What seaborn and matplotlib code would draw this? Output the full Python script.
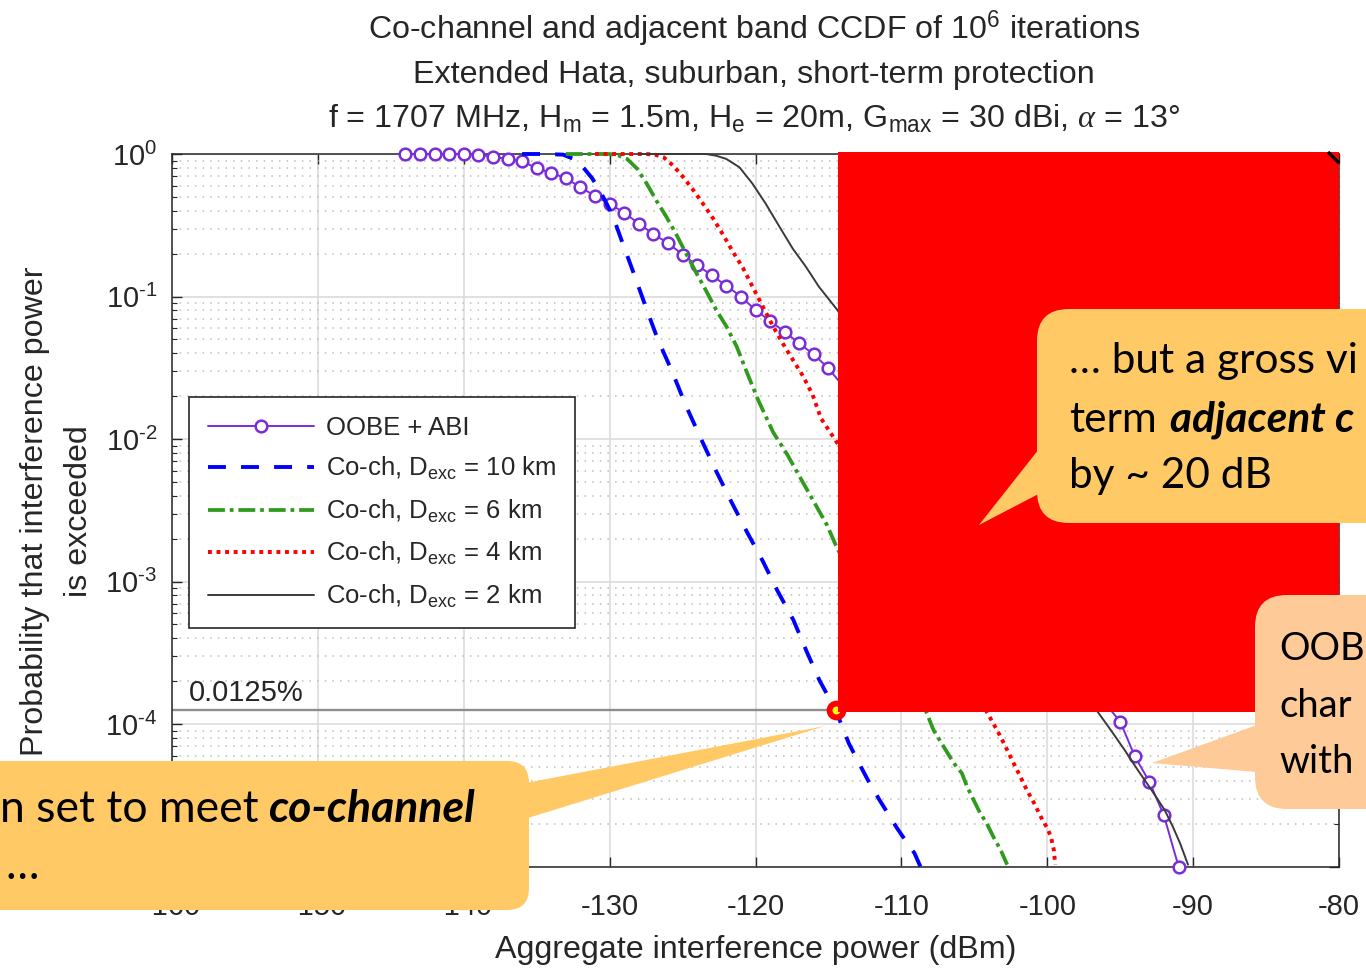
import matplotlib
matplotlib.use("Agg")
import matplotlib.pyplot as plt
from matplotlib.patches import FancyBboxPatch, Polygon, Rectangle
from matplotlib.ticker import FixedLocator, FuncFormatter, LogLocator, NullFormatter
import numpy as np
import seaborn as sns

# ---------------------------------------------------------------------------
# CCDF data: aggregate interference power (dBm) vs. probability of exceedance
# ---------------------------------------------------------------------------
oobe_abi_dbm = [-144, -143, -142, -141, -140, -139, -138, -137, -136, -135,
                -134, -133, -132, -131, -130, -129, -128, -127, -126, -125,
                -124, -123, -122, -121, -120, -119, -118, -117, -116, -115,
                -95, -94, -93, -92, -91]
oobe_abi_prob = [1.0, 1.0, 1.0, 1.0, 1.0, 0.99, 0.957, 0.923, 0.889, 0.794,
                 0.736, 0.676, 0.585, 0.507, 0.447, 0.387, 0.325, 0.274, 0.237, 0.197,
                 0.166, 0.141, 0.119, 0.100, 0.0804, 0.0673, 0.0565, 0.0468, 0.0392, 0.0313,
                 1.04e-4, 5.94e-5, 3.93e-5, 2.28e-5, 1.0e-5]

coch_10km_dbm = [-136.0, -134.5, -133.2, -132.2, -131.2, -130.6, -129.8, -129.2, -128.3,
                 -127.5, -126.7, -125.7, -124.8, -123.7, -122.7, -121.7, -120.6, -119.5,
                 -118.5, -117.4, -116.5, -115.6, -114.5, -113.6, -112.9, -112.3, -111.5,
                 -110.3, -109.9, -109.1, -108.7]
coch_10km_prob = [1.0, 1.0, 0.99, 0.90, 0.676, 0.537, 0.372, 0.251, 0.141,
                  0.0832, 0.0501, 0.0295, 0.0174, 0.00984, 0.00596, 0.00370, 0.00224, 0.00139,
                  8.63e-4, 5.36e-4, 3.24e-4, 2.01e-4, 1.25e-4, 7.31e-5, 5.30e-5, 4.05e-5, 2.93e-5,
                  1.86e-5, 1.62e-5, 1.24e-5, 1.0e-5]

coch_6km_dbm = [-133.0, -130.0, -129.4, -128.8, -128.1, -127.45, -126.8, -126.1, -125.4,
                -124.7, -124.05, -123.35, -122.7, -122.0, -121.3, -120.6, -119.8, -118.8,
                -117.8, -116.9, -116.0, -115.1, -114.4,
                -108.3, -107.8, -107.1, -106.4, -105.85, -105.5, -105.05, -104.6, -104.15,
                -103.7, -103.2, -102.75]
coch_6km_prob = [1.0, 1.0, 0.977, 0.923, 0.785, 0.618, 0.472, 0.361, 0.269,
                 0.195, 0.146, 0.108, 0.0807, 0.0618, 0.0448, 0.0295, 0.0186, 0.0112,
                 0.00771, 0.00528, 0.00363, 0.00249, 0.00171,
                 1.22e-4, 9.08e-5, 6.93e-5, 5.30e-5, 4.51e-5, 3.64e-5, 2.93e-5, 2.37e-5, 2.01e-5,
                 1.62e-5, 1.31e-5, 1.03e-5]

coch_4km_dbm = [-131.0, -127.5, -126.9, -126.3, -125.65, -124.95, -124.25, -123.6, -122.9,
                -122.2, -121.55, -120.85, -120.2, -119.5, -118.8, -118.15, -117.45, -116.75,
                -116.1, -115.5, -114.3,
                -104.15, -103.7, -103.2, -102.75, -102.3, -101.85, -101.4, -100.9, -100.45,
                -100.0, -99.75, -99.55, -99.45]
coch_4km_prob = [1.0, 1.0, 0.99, 0.948, 0.83, 0.687, 0.555, 0.448, 0.352,
                 0.269, 0.206, 0.158, 0.117, 0.0851, 0.0618, 0.0472, 0.0361, 0.0277,
                 0.0206, 0.0139, 0.00906,
                 1.22e-4, 1.01e-4, 8.15e-5, 6.58e-5, 5.30e-5, 4.28e-5, 3.44e-5, 2.78e-5, 2.24e-5,
                 1.86e-5, 1.62e-5, 1.31e-5, 1.03e-5]

coch_2km_dbm = [-128.0, -123.4, -122.7, -122.0, -121.1, -120.2, -119.3, -118.35, -117.45,
                -116.55, -115.65, -114.4,
                -96.55, -95.65, -94.7, -93.8, -92.85, -91.95, -91.4, -90.9, -90.35]
coch_2km_prob = [1.0, 1.0, 0.973, 0.923, 0.807, 0.618, 0.448, 0.308, 0.217,
                 0.162, 0.117, 0.0807,
                 1.22e-4, 9.08e-5, 6.58e-5, 4.76e-5, 3.44e-5, 2.49e-5, 1.91e-5, 1.46e-5, 1.03e-5]

series_labels = ["OOBE + ABI",
                 r"Co-ch, $\mathregular{D_{exc}}$ = 10 km",
                 r"Co-ch, $\mathregular{D_{exc}}$ = 6 km",
                 r"Co-ch, $\mathregular{D_{exc}}$ = 4 km",
                 r"Co-ch, $\mathregular{D_{exc}}$ = 2 km"]

protection_level = 1.25e-4          # 0.0125 % short-term criterion
protection_label = "0.0125%"
crossing_dbm = -114.5               # 10 km curve meets the criterion here

x_ticks = [-160, -150, -140, -130, -120, -110, -100, -90, -80]
y_ticks = [1e-5, 1e-4, 1e-3, 1e-2, 1e-1, 1.0]

title_lines = [r"Co-channel and adjacent band CCDF of $\mathregular{10^6}$ iterations",
               "Extended Hata, suburban, short-term protection",
               r"f = 1707 MHz, $\mathregular{H_m}$ = 1.5m, $\mathregular{H_e}$ = 20m, "
               r"$\mathregular{G_{max}}$ = 30 dBi, $\alpha$ = 13°"]
x_label = "Aggregate interference power (dBm)"
y_label_lines = ["Probability that interference power", "is exceeded"]

# ---------------------------------------------------------------------------
# Styling
# ---------------------------------------------------------------------------
sns.set_theme(style="ticks")
plt.rcParams["font.family"] = ["Liberation Sans", "DejaVu Sans"]
plt.rcParams.update({
    "axes.unicode_minus": False,
    "mathtext.fontset": "custom",
    "mathtext.rm": "Liberation Sans",
    "mathtext.it": "Liberation Serif:italic",
    "mathtext.bf": "Liberation Sans:bold",
    "mathtext.sf": "Liberation Sans",
    "text.color": "#262626",
    "axes.labelcolor": "#262626",
    "xtick.color": "#262626",
    "ytick.color": "#262626",
    "axes.edgecolor": "#262626",
})

INK = "#262626"
PURPLE = "#7A2CD8"
BLUE = "#0000FF"
GREEN = "#2F9A1C"
RED = "#FF0000"
DARK = "#3A3A3A"

W, H = 1366, 968
fig = plt.figure(figsize=(W / 100, H / 100), dpi=100, facecolor="white")
ax = fig.add_axes([172 / W, (H - 866.5) / H, 1167 / W, 712.5 / H])
ax.set_facecolor("white")
ax.set_yscale("log")

line_styles = [
    dict(color=PURPLE, lw=1.4, marker="o", markersize=8.4, markerfacecolor="white",
         markeredgecolor=PURPLE, markeredgewidth=1.8),
    dict(color=BLUE, lw=2.8, linestyle=(0, (4.6, 3.9))),
    dict(color=GREEN, lw=2.7, linestyle=(0, (4.5, 1.3, 1.0, 1.3))),
    dict(color=RED, lw=2.8, linestyle=(0, (1.0, 1.2))),
    dict(color=DARK, lw=1.4, linestyle="-"),
]
series_data = [(oobe_abi_dbm, oobe_abi_prob), (coch_10km_dbm, coch_10km_prob),
               (coch_6km_dbm, coch_6km_prob), (coch_4km_dbm, coch_4km_prob),
               (coch_2km_dbm, coch_2km_prob)]

for (xs, ps), label, style in zip(series_data, series_labels, line_styles):
    sns.lineplot(x=xs, y=ps, ax=ax, label=label, estimator=None, sort=False,
                 errorbar=None, zorder=3, clip_on=False, **style)

# protection criterion and the point where the 10 km curve reaches it
ax.axhline(protection_level, color="#8E8E8E", lw=1.7, zorder=2.2)
ax.annotate(protection_label, xy=(-158.85, protection_level), xytext=(0, 6.5),
            textcoords="offset points", ha="left", va="baseline", fontsize=21, color=INK)
ax.plot([crossing_dbm], [protection_level], marker="o", ms=10, mfc="#FFFF00",
        mec="#FF0000", mew=4.2, zorder=6, clip_on=False, ls="none")

# axes, ticks, grid
ax.set_xlim(-160, -80)
ax.set_ylim(1e-5, 1.0)
ax.xaxis.set_major_locator(FixedLocator(x_ticks))
ax.yaxis.set_major_locator(FixedLocator(y_ticks))
ax.yaxis.set_minor_locator(LogLocator(base=10, subs=[2, 3, 4, 5, 6, 7, 8, 9], numticks=50))
ax.yaxis.set_minor_formatter(NullFormatter())


def decade_label(v, pos):
    e = int(round(np.log10(v)))
    exp = str(e).replace("-", "\u2010")
    return r"$\mathregular{10^{%s}}$" % exp


ax.yaxis.set_major_formatter(FuncFormatter(decade_label))
ax.xaxis.set_major_formatter(FuncFormatter(lambda v, pos: "%d" % v))
ax.tick_params(which="both", direction="in", top=True, right=True, color=INK)
ax.tick_params(which="major", length=7, width=1.0, labelsize=21)
ax.tick_params(which="minor", length=3.5, width=0.8)
ax.tick_params(axis="x", which="major", pad=19)
ax.tick_params(axis="y", which="major", pad=10.5)
ax.grid(True, which="major", color="#DCDCDC", lw=1.2)
ax.grid(True, which="minor", axis="y", color="#BDBDBD", lw=1.1, ls=(0, (1, 4)))
ax.set_axisbelow(True)
for sp in ax.spines.values():
    sp.set_linewidth(1.1)
    sp.set_color(INK)
    sp.set_zorder(2.5)

ax.set_xlabel(x_label, fontsize=23.2, color=INK)
ax.xaxis.set_label_coords(0.5, -0.0967)
ax.set_ylabel("")

# legend
leg = ax.legend(loc="upper left", bbox_to_anchor=((189 - 172) / 1167, (866.5 - 397) / 712.5),
                borderaxespad=0, frameon=True, fancybox=False, framealpha=1,
                facecolor="white", edgecolor=INK, fontsize=18.5, handlelength=4.15,
                handletextpad=0.46, borderpad=0.72, labelspacing=0.6)
leg.get_frame().set_linewidth(1.2)
leg.set_zorder(5)

# titles and y label
for line, base in zip(title_lines, [39.5, 83, 128]):
    fig.text(754 / W, 1 - base / H, line, ha="center", va="baseline", fontsize=23.2, color=INK)
for line, base in zip(y_label_lines, [43, 87]):
    fig.text(base / W, 1 - 511 / H, line, rotation=90, rotation_mode="anchor",
             ha="center", va="baseline", fontsize=23.2, color=INK)

# ---------------------------------------------------------------------------
# Presentation overlay (pixel coordinates): masking block and speech callouts
# ---------------------------------------------------------------------------
ov = fig.add_axes([0, 0, 1, 1])
ov.set_xlim(0, W)
ov.set_ylim(H, 0)
ov.axis("off")
ov.set_zorder(10)
ov.patch.set_visible(False)

ov.add_patch(Rectangle((838, 152), 1339 - 838, 712 - 152, fc="#FF0000", ec="none"))
ov.plot([1328, 1339], [152, 163], color="black", lw=2.4, solid_capstyle="butt")

ORANGE = "#FFC966"
PEACH = "#FDCA98"


def callout(x0, y0, x1, y1, radius, pointer, color):
    ov.add_patch(FancyBboxPatch((x0, y0), x1 - x0, y1 - y0,
                                boxstyle=f"round,pad=0,rounding_size={radius}",
                                fc=color, ec="none", lw=0))
    ov.add_patch(Polygon(pointer, closed=True, fc=color, ec="none", lw=0))


callout(-60, 761, 529, 910, 22, [(515, 785), (825, 726), (515, 822)], ORANGE)
callout(1037, 309, 1420, 523, 32, [(1050, 435), (979, 525), (1050, 488)], ORANGE)
callout(1255, 595, 1420, 809, 32, [(1268, 721), (1152, 763), (1268, 773)], PEACH)

CF = dict(family=["Lato", "DejaVu Sans"], fontsize=32, color="black",
          va="baseline", ha="left", clip_on=True)
BI = dict(CF, fontweight="bold", fontstyle="italic")
CF2 = dict(CF, fontsize=30.5)
BI2 = dict(BI, fontsize=30.5)
CF3 = dict(CF, fontsize=27.5)

ov.text(0, 821.7, "n set to meet", **CF)
ov.text(268, 821.7, "co-channel", **BI)
ov.text(6, 879, "…", **CF)

ov.text(1069, 373, "… but a gross vi", **CF2)
ov.text(1069, 431.7, "term", **CF2)
ov.text(1170, 431.7, "adjacent c", **BI2)
ov.text(1069, 488.3, "by ~ 20 dB", **CF2)

ov.text(1279, 660, "OOB", **CF3)
ov.text(1279, 716.7, "char", **CF3)
ov.text(1279, 773.3, "with", **CF3)

fig.savefig("out.png", dpi=100, facecolor="white")
